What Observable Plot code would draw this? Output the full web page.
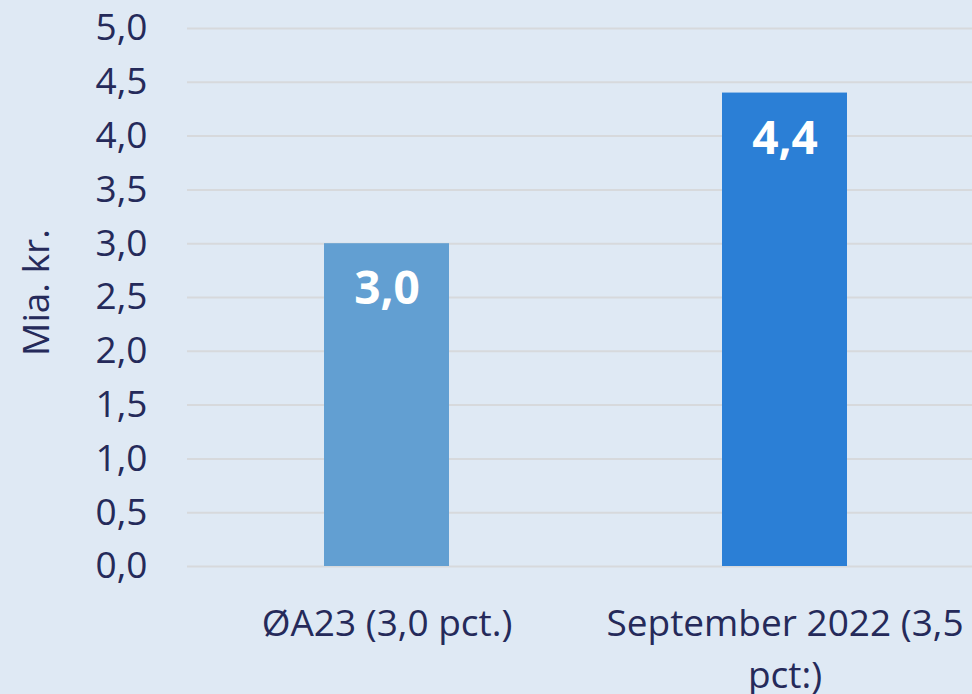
<!DOCTYPE html>
<html>
<head>
<meta charset="utf-8">
<script src="https://cdn.jsdelivr.net/npm/d3@7"></script>
<script src="https://cdn.jsdelivr.net/npm/@observablehq/plot@0.6"></script>
<style>
  html, body { margin: 0; padding: 0; background: #dfe9f4; }
  #chart { width: 972px; height: 694px; overflow: hidden; }
</style>
</head>
<body>
<div id="chart"></div>
<script>
const categories = ["ØA23 (3,0 pct.)", "September 2022 (3,5 pct:)"];
const categoryLines = ["ØA23 (3,0 pct.)", "September 2022 (3,5\npct:)"];
const values = [3.0, 4.4];
const valueLabels = ["3,0", "4,4"];
const barColors = ["#629fd2", "#2b7fd6"];
const yTicks = [0, 0.5, 1, 1.5, 2, 2.5, 3, 3.5, 4, 4.5, 5];
const yTitle = "Mia. kr.";

const data = categories.map((c, i) => ({cat: c, value: values[i], label: valueLabels[i], color: barColors[i]}));
const fmtY = d => d3.format(".1f")(d).replace(".", ",");
const fmtX = d => categoryLines[categories.indexOf(d)];

const textColor = "#252a5a";

const chart = Plot.plot({
  width: 972,
  height: 694,
  marginLeft: 187,
  marginRight: 0,
  marginTop: 28,
  marginBottom: 128,
  style: {background: "#dfe9f4", fontFamily: "'Open Sans', sans-serif", fontSize: "37px", color: textColor},
  x: {domain: categories, range: [187, 984], paddingInner: 0.686, paddingOuter: 0.343, align: 0.5},
  y: {domain: [0, 5]},
  color: {type: "identity"},
  marks: [
    Plot.ruleY(yTicks, {stroke: "#d7d9dc", strokeWidth: 2}),
    Plot.barY(data, {x: "cat", y: "value", fill: "color"}),
    Plot.text(data, {x: "cat", y: "value", text: "label", dy: 46, fill: "white", fontWeight: "bold", fontSize: 46}),
    Plot.axisY({ticks: yTicks, tickFormat: fmtY, tickSize: 0, tickPadding: 40, fontSize: 37, fill: textColor, label: null}),
    Plot.axisX({tickSize: 0, tickPadding: 33, fontSize: 37, fill: textColor, label: null, tickFormat: fmtX, lineHeight: 1.4}),
    Plot.text([yTitle], {text: d => d, frameAnchor: "left", textAnchor: "middle", rotate: -90, dx: -150, dy: -5, fontSize: 37, fill: textColor})
  ]
});
document.getElementById("chart").appendChild(chart);
</script>
</body>
</html>
